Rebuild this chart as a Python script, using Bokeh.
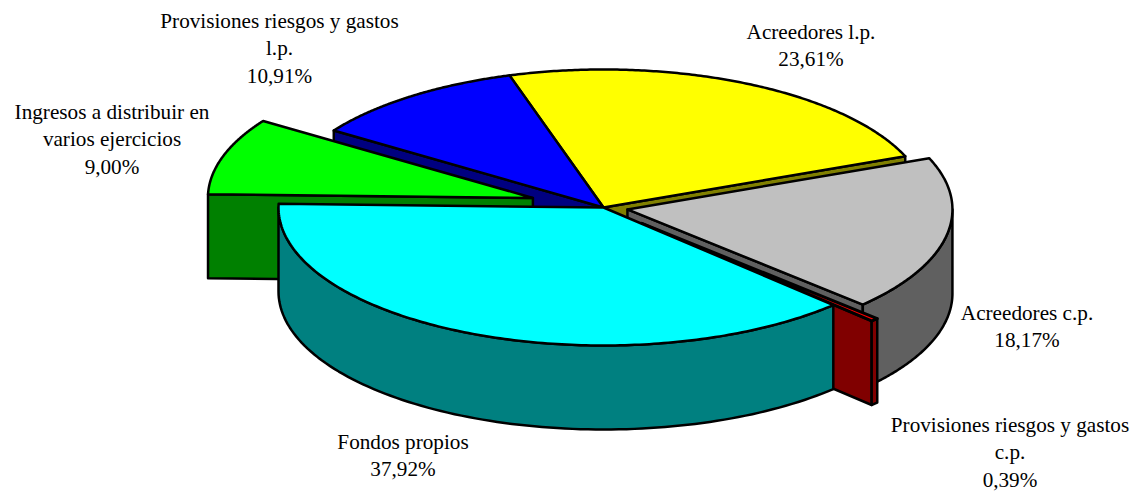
import numpy as np
from bokeh.plotting import figure
from bokeh.models import Range1d, ColumnDataSource
from bokeh.core.properties import value
from bokeh.embed import file_html
from bokeh.resources import INLINE

# data
categories = ["Fondos propios", "Ingresos a distribuir en varios ejercicios",
              "Provisiones riesgos y gastos l.p.", "Acreedores l.p.",
              "Acreedores c.p.", "Provisiones riesgos y gastos c.p."]
percentages = [37.92, 9.00, 10.91, 23.61, 18.17, 0.39]
label_lines = [["Fondos propios"], ["Ingresos a distribuir en", "varios ejercicios"],
               ["Provisiones riesgos y gastos", "l.p."], ["Acreedores l.p."],
               ["Acreedores c.p."], ["Provisiones riesgos y gastos", "c.p."]]
top_colors = ["#00ffff", "#00ff00", "#0000ff", "#ffff00", "#c0c0c0", "#ff0000"]
side_colors = ["#008080", "#008000", "#000080", "#808000", "#606060", "#800000"]
explode = [0.0, 0.228, 0.0, 0.0, 0.075, 0.165]

# layout (picture pixels)
W, H = 1138, 493
CX, CY, RX, RY, DEPTH = 603.0, 207.0, 325.0, 138.0, 84.0
START = 45.0
DRAW_ORDER = [3, 2, 1, 4, 5, 0]
LABEL_X = [402.5, 111.5, 279, 810.5, 1026.5, 1009.5]
LABEL_Y = [441, 111, 20, 31, 312, 424]
LINE_STEP = 27.5
FONT_SIZE = "21.2px"
LW = 2.5

p = figure(width=W, height=H, x_range=Range1d(0, W), y_range=Range1d(H, 0),
           x_axis_type=None, y_axis_type=None, toolbar_location=None,
           output_backend="svg", min_border=0, outline_line_color=None)
p.grid.visible = False
p.background_fill_color = "#ffffff"
p.border_fill_color = "#ffffff"


def pt(vx, vy, t):
    r = np.radians(t)
    return vx + RX * np.cos(r), vy + RY * np.sin(r)


def poly(xs, ys, color, lw=LW):
    p.patch(list(xs), list(ys), fill_color=color, line_color="black",
            line_width=lw, line_join="round")


angles = [START]
for v in percentages:
    angles.append(angles[-1] + v * 3.6)

for i in DRAW_ORDER:
    t0, t1 = angles[i], angles[i + 1]
    mid = np.radians((t0 + t1) / 2)
    vx = CX + explode[i] * RX * np.cos(mid)
    vy = CY + explode[i] * RY * np.sin(mid)
    # radial faces that look towards the viewer
    for t, visible in ((t0, -np.cos(np.radians(t0)) > 0), (t1, np.cos(np.radians(t1)) > 0)):
        if visible:
            ex, ey = pt(vx, vy, t)
            poly([vx, ex, ex, vx], [vy, ey, ey + DEPTH, vy + DEPTH], side_colors[i])
    # outer rim, front half only
    for k in (0, 1):
        a = max(t0, 360 * k)
        b = min(t1, 360 * k + 180)
        if b > a:
            ts = np.linspace(a, b, 100)
            ax, ay = pt(vx, vy, ts)
            poly(np.r_[ax, ax[::-1]], np.r_[ay, ay[::-1] + DEPTH], side_colors[i])
    # top: the sliver of the smallest slice is nearly all outline
    ts = np.linspace(t0, t1, 160)
    ax, ay = pt(vx, vy, ts)
    poly(np.r_[vx, ax], np.r_[vy, ay], top_colors[i], lw=3 if percentages[i] < 1 else LW)

xs, ys, texts = [], [], []
for i, lines in enumerate(label_lines):
    full = lines + [f"{percentages[i]:.2f}%".replace(".", ",")]
    for j, line in enumerate(full):
        xs.append(LABEL_X[i])
        ys.append(LABEL_Y[i] + j * LINE_STEP)
        texts.append(line)

src = ColumnDataSource(dict(x=xs, y=ys, text=texts))
p.text("x", "y", text="text", source=src, text_font=value("Liberation Serif"),
       text_font_size=value(FONT_SIZE), text_color="black", text_align="center",
       text_baseline="alphabetic")

open("out.html", "w").write(file_html(p, INLINE))
